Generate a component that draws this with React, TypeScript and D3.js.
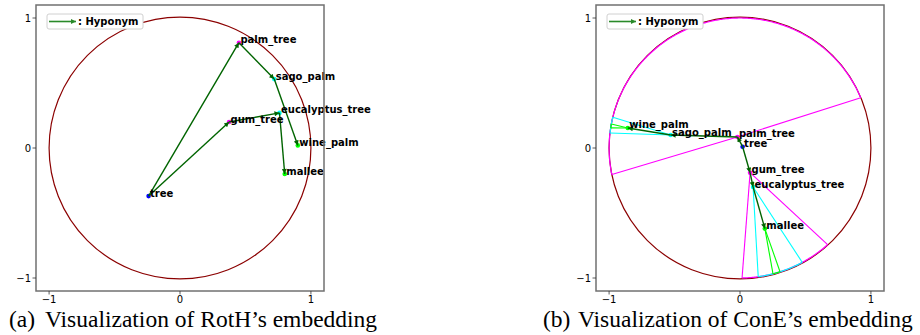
import React from 'react'
import * as d3 from 'd3'

// hyponym tree, same nodes in both panels
const nodes = ['tree', 'palm_tree', 'sago_palm', 'wine_palm', 'gum_tree', 'eucalyptus_tree', 'mallee']
const nodeColors = ['blue', 'magenta', 'cyan', 'lime', 'magenta', 'cyan', 'lime']
const edges = [
  ['tree', 'palm_tree'],
  ['palm_tree', 'sago_palm'],
  ['sago_palm', 'wine_palm'],
  ['tree', 'gum_tree'],
  ['gum_tree', 'eucalyptus_tree'],
  ['eucalyptus_tree', 'mallee']
]

// (a) RotH positions
const rothX = [-0.24, 0.45, 0.72, 0.9, 0.375, 0.76, 0.8]
const rothY = [-0.37, 0.81, 0.53, 0.02, 0.2, 0.27, -0.2]

// (b) ConE positions + cone boundary angles on the unit circle (degrees)
const coneX = [0.02, -0.02, -0.53, -0.857, 0.077, 0.1, 0.19]
const coneY = [0.01, 0.085, 0.1, 0.154, -0.19, -0.3, -0.62]
const coneFrom = [null, 22.7, 166.3, 169.4, -89.1, -82, -75.4]
const coneTo = [null, 191.8, 173.4, 171.1, -48, -61.6, -72.2]

const tickValues = [-1, 0, 1]
const legendLabel = ': Hyponym'
const captions = [
  ['(a)', 'Visualization of RotH\u2019s embedding'],
  ['(b)', 'Visualization of ConE\u2019s embedding']
]

const sans = 'DejaVu Sans, sans-serif'
const rad = (d: number) => (d * Math.PI) / 180

function Panel({ x0, xs, ys, cones, id }: any) {
  const x = d3.scaleLinear().domain([-1.1, 1.1]).range([x0, x0 + 288])
  const y = d3.scaleLinear().domain([-1.1, 1.1]).range([291, 5])
  const idx = (n: string) => nodes.indexOf(n)
  const fmt = d3.format('d')

  const arcPath = (a0: number, a1: number) => {
    const lo = Math.min(a0, a1),
      hi = Math.max(a0, a1)
    const angs = d3.range(lo, hi, 0.5).concat([hi])
    return d3.line()(angs.map((a) => [x(Math.cos(rad(a))), y(Math.sin(rad(a)))]) as any)
  }

  return (
    <g>
      <defs>
        <marker id={'arr' + id} viewBox="0 0 10 10" refX="10" refY="5" markerWidth="6" markerHeight="5"
          markerUnits="userSpaceOnUse" orient="auto">
          <path d="M0,0L10,5L0,10z" fill="darkgreen" />
        </marker>
        <marker id={'larr' + id} viewBox="0 0 10 10" refX="10" refY="5" markerWidth="6" markerHeight="5"
          markerUnits="userSpaceOnUse" orient="auto">
          <path d="M0,0L10,5L0,10z" fill="#2a8a2a" />
        </marker>
      </defs>

      {/* unit circle */}
      <circle cx={x(0)} cy={y(0)} r={x(1) - x(0)} fill="none" stroke="darkred" strokeWidth={1.2} />

      {/* cones (panel b only) */}
      {cones &&
        nodes.map((n, i) => {
          if (coneFrom[i] == null) return null
          const a0 = coneFrom[i] as number,
            a1 = coneTo[i] as number
          const c = nodeColors[i]
          return (
            <g key={'c' + n}>
              <path d={arcPath(a0, a1) as string} fill="none" stroke={c} strokeWidth={1.2} />
              {[a0, a1].map((a, k) => (
                <line key={k} x1={x(xs[i])} y1={y(ys[i])} x2={x(Math.cos(rad(a)))} y2={y(Math.sin(rad(a)))}
                  stroke={c} strokeWidth={1.1} />
              ))}
            </g>
          )
        })}

      {/* nodes */}
      {nodes.map((n, i) => (
        <circle key={'p' + n} cx={x(xs[i])} cy={y(ys[i])} r={2.3} fill={nodeColors[i]} />
      ))}

      {/* hyponym arrows */}
      {edges.map(([s, t]) => (
        <line key={s + t} x1={x(xs[idx(s)])} y1={y(ys[idx(s)])} x2={x(xs[idx(t)])} y2={y(ys[idx(t)])}
          stroke="darkgreen" strokeWidth={1.4} markerEnd={`url(#arr${id})`} />
      ))}

      {nodes.map((n, i) => (
        <text key={'t' + n} x={x(xs[i]) + 1.5} y={y(ys[i]) + 0.5} fontFamily={sans} fontSize={10}
          fontWeight="bold" fill="black">
          {n}
        </text>
      ))}

      {/* frame */}
      <rect x={x0} y={5} width={288} height={286} fill="none" stroke="#707070" strokeWidth={1.5} />

      {tickValues.map((v) => (
        <g key={'x' + v}>
          <line x1={x(v)} x2={x(v)} y1={291} y2={294.5} stroke="#333" strokeWidth={0.8} />
          <text x={x(v)} y={303} textAnchor="middle" fontFamily={sans} fontSize={10}>
            {fmt(v)}
          </text>
        </g>
      ))}
      {tickValues.map((v) => (
        <g key={'y' + v}>
          <line x1={x0} x2={x0 - 3.5} y1={y(v)} y2={y(v)} stroke="#333" strokeWidth={0.8} />
          <text x={x0 - 5} y={y(v) + 3.5} textAnchor="end" fontFamily={sans} fontSize={10}>
            {fmt(v)}
          </text>
        </g>
      ))}

      {/* legend */}
      <rect x={x0 + 11} y={14} width={96} height={15} rx={2} fill="white" stroke="#d0d0d0" strokeWidth={1} />
      <line x1={x0 + 13} x2={x0 + 40} y1={21.5} y2={21.5} stroke="#2a8a2a" strokeWidth={1.6}
        markerEnd={`url(#larr${id})`} />
      <text x={x0 + 42} y={25} fontFamily={sans} fontSize={10} fontWeight="bold">
        {legendLabel}
      </text>
    </g>
  )
}

export default function App() {
  return (
    <svg width={920} height={335} style={{ position: 'absolute', left: 0, top: 0, background: 'white' }}>
      <Panel x0={36} xs={rothX} ys={rothY} cones={false} id="a" />
      <Panel x0={596} xs={coneX} ys={coneY} cones={true} id="b" />
      {captions.map(([tag, txt], i) => (
        <g key={tag} fontFamily="Liberation Serif, Times New Roman, serif" fontSize={23.5}>
          <text x={i === 0 ? 9 : 543} y={327}>{tag}</text>
          <text x={i === 0 ? 45 : 578} y={327}>{txt}</text>
        </g>
      ))}
    </svg>
  )
}
